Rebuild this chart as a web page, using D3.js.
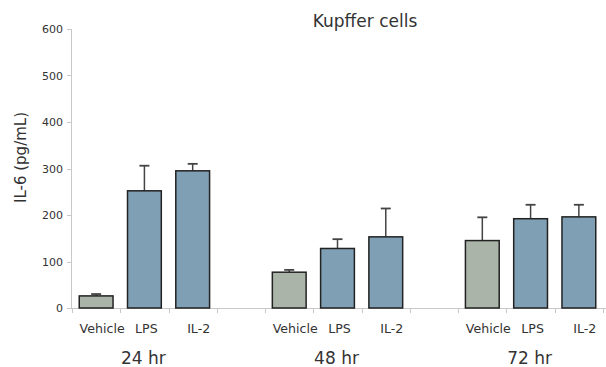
<!DOCTYPE html>
<html>
<head>
<meta charset="utf-8">
<script src="https://cdn.jsdelivr.net/npm/d3@7"></script>
<style>
  html, body { margin: 0; padding: 0; background: #fff; }
  svg text { font-family: "DejaVu Sans", sans-serif; fill: #333; }
</style>
</head>
<body>
<svg id="chart" width="606" height="367"></svg>
<script>
// ─── Data ─────────────────────────────────────────────────────────────────────

const groups = ["24 hr", "48 hr", "72 hr"];
const treatments = ["Vehicle", "LPS", "IL-2"];
const means = [
  [26, 252, 295],
  [77, 128, 153],
  [145, 192, 196],
];
const errors = [
  [4, 54, 15],
  [5, 20, 61],
  [50, 30, 26],
];
const yTicks = [0, 100, 200, 300, 400, 500, 600];
const fills = { "Vehicle": "#aab4a8", "LPS": "#7f9fb5", "IL-2": "#7f9fb5" };

// ─── Layout ───────────────────────────────────────────────────────────────────

const svg = d3.select("#chart");
const plot = { left: 72, right: 603, top: 29, bottom: 308 };

// one slot per bar plus a blank slot between groups
const slots = [];
const bars = [];
groups.forEach((g, gi) => {
  treatments.forEach((t, ti) => {
    const key = g + "|" + t;
    slots.push(key);
    bars.push({ key, group: g, treatment: t, mean: means[gi][ti], err: errors[gi][ti] });
  });
  if (gi < groups.length - 1) slots.push("gap" + gi);
});

const x = d3.scaleBand().domain(slots).range([plot.left, plot.right])
  .paddingInner(0.3).paddingOuter(0.15);
const y = d3.scaleLinear().domain([0, 600]).range([plot.bottom, plot.top]);
const step = x.step();

// ─── Axes ─────────────────────────────────────────────────────────────────────

const axisColor = "#c8c8c8";

svg.append("line")
  .attr("x1", plot.left - 0.5).attr("x2", plot.left - 0.5)
  .attr("y1", plot.top).attr("y2", plot.bottom)
  .attr("stroke", axisColor);

svg.append("line")
  .attr("x1", plot.left - 0.5).attr("x2", 606)
  .attr("y1", plot.bottom + 0.5).attr("y2", plot.bottom + 0.5)
  .attr("stroke", axisColor);

svg.selectAll(".ytick")
  .data(yTicks)
  .join("line")
  .attr("class", "ytick")
  .attr("x1", plot.left - 5).attr("x2", plot.left)
  .attr("y1", d => Math.round(y(d)) + 0.5)
  .attr("y2", d => Math.round(y(d)) + 0.5)
  .attr("stroke", axisColor);

svg.selectAll(".ylabel")
  .data(yTicks)
  .join("text")
  .attr("class", "ylabel")
  .attr("x", plot.left - 9)
  .attr("y", d => y(d) + 4)
  .attr("text-anchor", "end")
  .attr("font-size", "11px")
  .text(d => d);

// boundary ticks along the bottom
const boundaries = slots.map(s => x(s) - step * 0.15)
  .concat([x(slots[slots.length - 1]) + x.bandwidth() + step * 0.15]);
svg.selectAll(".xtick")
  .data(boundaries)
  .join("line")
  .attr("class", "xtick")
  .attr("x1", d => Math.round(d) + 0.5).attr("x2", d => Math.round(d) + 0.5)
  .attr("y1", plot.bottom).attr("y2", plot.bottom + 5)
  .attr("stroke", axisColor);

// ─── Bars ─────────────────────────────────────────────────────────────────────

svg.selectAll(".err")
  .data(bars)
  .join("line")
  .attr("class", "err")
  .attr("x1", d => x(d.key) + x.bandwidth() / 2)
  .attr("x2", d => x(d.key) + x.bandwidth() / 2)
  .attr("y1", d => y(d.mean))
  .attr("y2", d => y(d.mean + d.err))
  .attr("stroke", "#444")
  .attr("stroke-width", 1.5);

svg.selectAll(".cap")
  .data(bars)
  .join("line")
  .attr("class", "cap")
  .attr("x1", d => x(d.key) + x.bandwidth() / 2 - 5)
  .attr("x2", d => x(d.key) + x.bandwidth() / 2 + 5)
  .attr("y1", d => y(d.mean + d.err))
  .attr("y2", d => y(d.mean + d.err))
  .attr("stroke", "#444")
  .attr("stroke-width", 1.8);

svg.selectAll(".bar")
  .data(bars)
  .join("rect")
  .attr("class", "bar")
  .attr("x", d => x(d.key))
  .attr("y", d => y(d.mean))
  .attr("width", x.bandwidth())
  .attr("height", d => y(0) - y(d.mean))
  .attr("fill", d => fills[d.treatment])
  .attr("stroke", "#222")
  .attr("stroke-width", 1.5);

// ─── Labels ───────────────────────────────────────────────────────────────────

svg.selectAll(".xlabel")
  .data(bars)
  .join("text")
  .attr("class", "xlabel")
  .attr("x", d => x(d.key) + x.bandwidth() / 2 + (d.treatment === "LPS" ? 2 : 6))
  .attr("y", 333)
  .attr("text-anchor", "middle")
  .attr("font-size", "12.6px")
  .text(d => d.treatment);

svg.selectAll(".glabel")
  .data(groups)
  .join("text")
  .attr("class", "glabel")
  .attr("x", g => x(g + "|LPS") + x.bandwidth() / 2 - 1)
  .attr("y", 364)
  .attr("text-anchor", "middle")
  .attr("font-size", "17px")
  .text(g => g);

svg.append("text")
  .attr("x", 365)
  .attr("y", 27)
  .attr("text-anchor", "middle")
  .attr("font-size", "17px")
  .text("Kupffer cells");

svg.append("text")
  .attr("transform", "translate(26,157.5) rotate(-90)")
  .attr("text-anchor", "middle")
  .attr("font-size", "15px")
  .text("IL-6 (pg/mL)");
</script>
</body>
</html>
